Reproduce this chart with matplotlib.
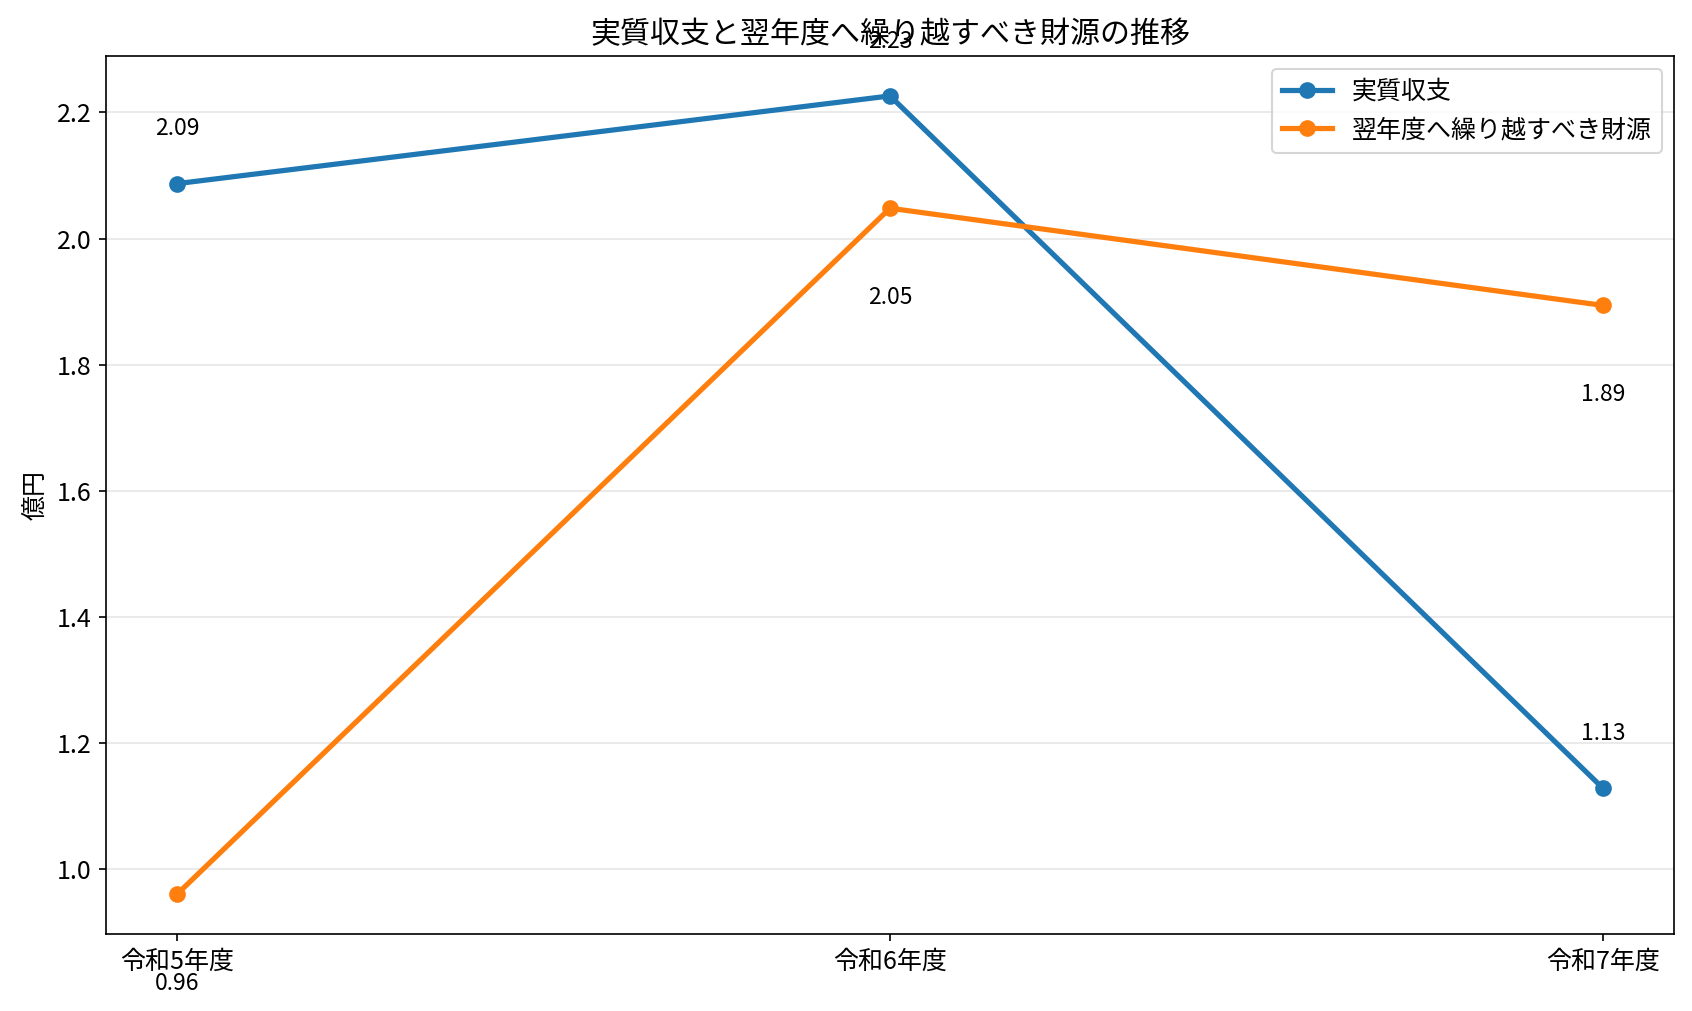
import matplotlib
matplotlib.use("Agg")
import matplotlib.pyplot as plt

plt.rcParams['font.family'] = ['Noto Sans CJK JP', 'DejaVu Sans']
plt.rcParams['font.size'] = 12

# データ(億円)
years = ['令和5年度', '令和6年度', '令和7年度']
jisshitsu = [2.087, 2.226, 1.129]
kurikoshi = [0.961, 2.048, 1.894]
jisshitsu_labels = ['2.09', '2.23', '1.13']
kurikoshi_labels = ['0.96', '2.05', '1.89']

fig, ax = plt.subplots(figsize=(11.28, 6.74), dpi=150)

x = range(len(years))
ax.plot(x, jisshitsu, marker='o', linewidth=2.5, markersize=7, label='実質収支')
ax.plot(x, kurikoshi, marker='o', linewidth=2.5, markersize=7, label='翌年度へ繰り越すべき財源')

# 値ラベル
for i, (v, s) in enumerate(zip(jisshitsu, jisshitsu_labels)):
    ax.text(i, v + 0.087, s, ha='center', va='center', fontsize=11)
for i, (v, s) in enumerate(zip(kurikoshi, kurikoshi_labels)):
    ax.text(i, v - 0.141, s, ha='center', va='center', fontsize=11)

ax.set_xticks(list(x))
ax.set_xticklabels(years)
ax.set_ylabel('億円')
ax.set_title('実質収支と翌年度へ繰り越すべき財源の推移')
ax.grid(axis='y', color='#e6e6e6', linewidth=0.8)
ax.set_axisbelow(True)
ax.legend(loc='upper right')

fig.subplots_adjust(left=0.0626, right=0.9894, bottom=0.0762, top=0.9446)
plt.savefig('out.png', dpi=150)
